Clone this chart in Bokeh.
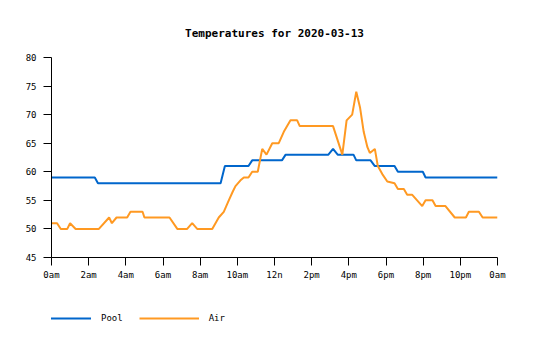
from bokeh.plotting import figure
from bokeh.models import Legend, LegendItem, FixedTicker, Range1d
from bokeh.layouts import column
from bokeh.embed import file_html
from bokeh.resources import INLINE

# Pool temperature breakpoints (hours since midnight, deg F)
pool_hours = [0, 2.33, 2.5, 9.1, 9.33, 10.6, 10.8, 12.4, 12.6, 14.9, 15.15, 15.4,
              16.25, 16.4, 17.17, 17.4, 18.46, 18.64, 19.98, 20.13, 24]
pool_temps = [59, 59, 58, 58, 61, 61, 62, 62, 63, 63, 64, 63,
              63, 62, 62, 61, 61, 60, 60, 59, 59]

# Air temperature breakpoints
air_hours = [0, 0.3, 0.5, 0.85, 1.0, 1.3, 2.55, 3.1, 3.25, 3.5, 4.07, 4.25, 4.9, 5.0,
             6.35, 6.77, 7.3, 7.57, 7.84, 8.65, 9.0, 9.27, 9.54, 9.75, 9.9, 10.17, 10.35,
             10.6, 10.8, 11.1, 11.34, 11.57, 11.88, 12.23, 12.5, 12.86, 13.22, 13.36,
             15.15, 15.65, 15.88, 16.18, 16.4, 16.6, 16.8, 17.0, 17.13, 17.4, 17.56,
             17.8, 18.07, 18.46, 18.64, 18.96, 19.14, 19.4, 19.95, 20.13, 20.5, 20.67,
             21.2, 21.7, 22.3, 22.46, 23.0, 23.2, 24]
air_temps = [51, 51, 50, 50, 51, 50, 50, 52, 51, 52, 52, 53, 53, 52,
             52, 50, 50, 51, 50, 50, 52, 53, 55, 56.5, 57.5, 58.5, 59,
             59, 60, 60, 64, 63, 65, 65, 67, 69, 69, 68,
             68, 63, 69, 70, 74, 71.3, 67, 64.3, 63.3, 64, 61,
             59.6, 58.3, 58, 57, 57, 56, 56, 54, 55, 55, 54,
             54, 52, 52, 53, 53, 52, 52]

x_ticks = [0, 2, 4, 6, 8, 10, 12, 14, 16, 18, 20, 22, 24]
x_labels = ["0am", "2am", "4am", "6am", "8am", "10am", "12n", "2pm", "4pm",
            "6pm", "8pm", "10pm", "0am"]
y_ticks = [45, 50, 55, 60, 65, 70, 75, 80]

series_names = ["Pool", "Air"]
series_colors = ["#0066cc", "#ff9922"]

FONT = "DejaVu Sans Mono"

p = figure(output_backend="svg", toolbar_location=None,
           x_range=Range1d(0, 24), y_range=Range1d(45, 80),
           title="Temperatures for 2020-03-13",
           frame_width=446, frame_height=200,
           min_border_left=51, min_border_right=38, min_border_top=57, min_border_bottom=33)

p.title.align = "center"
p.title.text_font = FONT
p.title.text_font_size = "11px"
p.title.text_font_style = "bold"
p.title.text_color = "black"
p.title.standoff = 35

p.outline_line_color = None
p.grid.visible = False

p.xaxis.ticker = FixedTicker(ticks=x_ticks)
p.xaxis.major_label_overrides = {t: l for t, l in zip(x_ticks, x_labels)}
p.yaxis.ticker = FixedTicker(ticks=y_ticks)
for ax in (p.xaxis, p.yaxis):
    ax.axis_line_color = "black"
    ax.major_tick_line_color = "black"
    ax.major_tick_out = 8
    ax.major_tick_in = 0
    ax.minor_tick_line_color = None
    ax.major_label_text_font = FONT
    ax.major_label_text_font_size = "9px"
    ax.major_label_text_color = "black"
p.xaxis.major_label_standoff = 4
p.yaxis.major_label_standoff = 7

p.line(pool_hours, pool_temps, line_color=series_colors[0], line_width=2)
p.line(air_hours, air_temps, line_color=series_colors[1], line_width=2)

# Legend strip below the chart (series re-drawn outside its visible range,
# only so that the legend has line renderers to show)
lg = figure(output_backend="svg", toolbar_location=None, width=535, height=50,
            x_range=Range1d(100, 101), y_range=Range1d(100, 101),
            x_axis_location=None, y_axis_location=None,
            min_border_left=0, min_border_right=0, min_border_top=0, min_border_bottom=0)
lg.outline_line_color = None
lg.grid.visible = False
items = []
for name, color, xs, ys in zip(series_names, series_colors,
                               [pool_hours, air_hours], [pool_temps, air_temps]):
    r = lg.line(x=xs, y=ys, line_color=color, line_width=2)
    items.append(LegendItem(label=name, renderers=[r]))

legend = Legend(items=items, orientation="horizontal", location=(-20, 14),
                border_line_color=None, background_fill_alpha=0,
                glyph_width=60, glyph_height=16, label_standoff=10, spacing=16,
                padding=0, margin=0,
                label_text_font=FONT, label_text_font_size="9px",
                label_text_color="black")
lg.add_layout(legend)

layout = column(p, lg, spacing=0)
open("out.html", "w").write(file_html(layout, INLINE))
